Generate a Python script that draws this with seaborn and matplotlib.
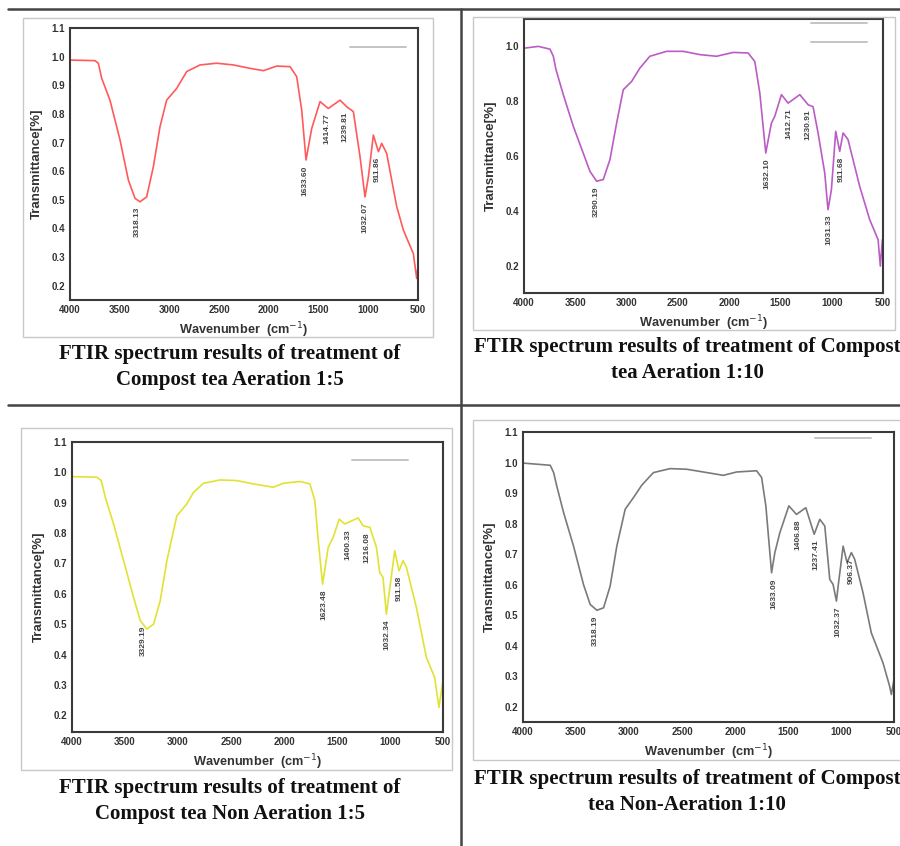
import numpy as np
import matplotlib.pyplot as plt
import seaborn as sns
from matplotlib.lines import Line2D
from matplotlib.patches import Rectangle

# --- spectra (wavenumber cm-1, transmittance) ---

# Compost tea Aeration 1:5
wn_aer5 = [4000, 3749, 3715, 3681, 3598, 3497, 3413, 3346, 3296, 3229, 3162, 3095,
           3028, 2927, 2826, 2692, 2525, 2357, 2189, 2055, 1921, 1787, 1720, 1670,
           1626, 1569, 1485, 1402, 1284, 1217, 1150, 1083, 1033, 999, 949, 898,
           865, 815, 714, 647, 547, 513, 500]
t_aer5 = [0.988, 0.986, 0.977, 0.924, 0.848, 0.709, 0.569, 0.505, 0.493, 0.510, 0.615, 0.755,
          0.848, 0.889, 0.948, 0.971, 0.977, 0.971, 0.959, 0.951, 0.967, 0.965, 0.930, 0.814,
          0.639, 0.749, 0.843, 0.819, 0.848, 0.825, 0.808, 0.650, 0.510, 0.580, 0.726, 0.668,
          0.697, 0.662, 0.476, 0.394, 0.312, 0.225, 0.266]
peaks_aer5 = ["3318.13", "1633.60", "1414.77", "1239.81", "1032.07", "911.86"]

# Compost tea Aeration 1:10
wn_aer10 = [3990, 3860, 3747, 3714, 3688, 3617, 3519, 3422, 3357, 3292, 3227, 3162,
            3097, 3032, 2951, 2870, 2773, 2610, 2448, 2286, 2123, 1961, 1815, 1750,
            1701, 1643, 1588, 1555, 1490, 1425, 1311, 1230, 1182, 1133, 1068, 1036,
            1003, 961, 922, 889, 841, 727, 630, 548, 526, 506]
t_aer10 = [0.994, 1.000, 0.990, 0.964, 0.915, 0.824, 0.708, 0.610, 0.544, 0.508, 0.514, 0.587,
           0.720, 0.842, 0.872, 0.921, 0.964, 0.982, 0.982, 0.970, 0.964, 0.978, 0.976, 0.945,
           0.830, 0.611, 0.720, 0.745, 0.824, 0.793, 0.824, 0.787, 0.780, 0.684, 0.538, 0.404,
           0.477, 0.690, 0.617, 0.684, 0.660, 0.489, 0.368, 0.295, 0.198, 0.295]
peaks_aer10 = ["3290.19", "1632.10", "1412.71", "1230.91", "1031.33", "911.68"]

# Compost tea Non Aeration 1:5
wn_non5 = [4000, 3765, 3724, 3686, 3608, 3513, 3419, 3356, 3294, 3231, 3168, 3105,
           3011, 2917, 2854, 2760, 2603, 2446, 2289, 2101, 2007, 1850, 1756, 1709,
           1677, 1636, 1583, 1536, 1479, 1426, 1300, 1253, 1190, 1128, 1097, 1066,
           1034, 1009, 955, 915, 877, 845, 751, 657, 579, 538, 500]
t_non5 = [0.986, 0.984, 0.973, 0.918, 0.830, 0.709, 0.588, 0.512, 0.484, 0.500, 0.577, 0.709,
          0.857, 0.896, 0.934, 0.964, 0.975, 0.973, 0.962, 0.951, 0.964, 0.970, 0.962, 0.907,
          0.775, 0.632, 0.753, 0.786, 0.846, 0.830, 0.850, 0.824, 0.819, 0.753, 0.670, 0.654,
          0.533, 0.600, 0.742, 0.676, 0.709, 0.687, 0.555, 0.391, 0.325, 0.226, 0.314]
peaks_non5 = ["3329.19", "1623.48", "1400.33", "1216.08", "1032.34", "911.58"]

# Compost tea Non-Aeration 1:10
wn_non10 = [3994, 3743, 3711, 3680, 3617, 3523, 3429, 3366, 3303, 3240, 3178, 3115,
            3036, 2958, 2879, 2770, 2613, 2456, 2299, 2110, 1985, 1796, 1749, 1709,
            1655, 1624, 1577, 1492, 1420, 1332, 1253, 1200, 1153, 1106, 1075, 1043,
            1027, 980, 943, 902, 871, 792, 714, 604, 541, 525, 500]
t_non10 = [0.998, 0.991, 0.967, 0.921, 0.836, 0.726, 0.600, 0.535, 0.516, 0.524, 0.595, 0.726,
           0.847, 0.885, 0.926, 0.967, 0.980, 0.978, 0.969, 0.958, 0.969, 0.973, 0.951, 0.858,
           0.639, 0.705, 0.770, 0.858, 0.830, 0.852, 0.765, 0.814, 0.792, 0.617, 0.601, 0.546,
           0.595, 0.726, 0.672, 0.705, 0.683, 0.573, 0.442, 0.344, 0.267, 0.240, 0.289]
peaks_non10 = ["3318.19", "1633.09", "1406.88", "1237.41", "1032.37", "906.37"]

x_ticks = [4000, 3500, 3000, 2500, 2000, 1500, 1000, 500]

W, H = 900, 846


def fbox(left, top, right, bottom):
    # pixel box -> figure fraction [x0, y0, w, h]
    return [left / W, 1 - bottom / H, (right - left) / W, (bottom - top) / H]


def draw_panel(fig, box, frame, wn, t, peaks, color, ylim, yticks, legend_at, n_leg, caption, cap_xy):
    fx = fbox(*frame)
    fig.add_artist(Rectangle((fx[0], fx[1]), fx[2], fx[3], transform=fig.transFigure,
                             fill=False, edgecolor="#c8c8c8", linewidth=1.0))
    ax = fig.add_axes(fbox(*box))
    sns.lineplot(x=wn, y=t, ax=ax, color=color, linewidth=1.2, estimator=None, sort=False)
    ax.set_xlim(4000, 500)
    ax.set_ylim(*ylim)
    ax.set_xticks(x_ticks)
    ax.set_yticks(yticks)
    ax.set_yticklabels([f"{v:.1f}" for v in yticks])
    ax.tick_params(labelsize=7, length=2, width=0.8, pad=1.5, colors="#333333")
    for lab in ax.get_xticklabels() + ax.get_yticklabels():
        lab.set_fontweight("bold")
    for s in ax.spines.values():
        s.set_color("#3a3a3a")
        s.set_linewidth(1.5)
    ax.set_xlabel("Wavenumber  (cm$^{-1}$)", fontsize=9.2, fontweight="bold", color="#333333", labelpad=4)
    ax.set_ylabel("Transmittance[%]", fontsize=9.5, fontweight="bold", color="#333333", labelpad=6)

    # peak labels just under the local minimum
    wn_a = np.array(wn)
    t_a = np.array(t)
    for p in peaks:
        v = float(p)
        near = np.abs(wn_a - v) < 30
        y = t_a[near].min() if near.any() else np.interp(v, wn_a[::-1], t_a[::-1])
        ax.text(v, y - 0.018, p, rotation=90, ha="center", va="top", fontsize=6,
                color="#444444", fontweight="bold")

    handles = [Line2D([], [], color="#c4c4c4", linewidth=1.4) for _ in range(n_leg)]
    ax.legend(handles, [""] * n_leg, loc="center", bbox_to_anchor=legend_at, frameon=False,
              handlelength=5, handletextpad=0, borderpad=0, labelspacing=0.75, fontsize=8)

    fig.text(cap_xy[0] / W, 1 - cap_xy[1] / H, caption, ha="center", va="center",
             multialignment="center", fontsize=15, fontweight="bold",
             family="Liberation Serif", linespacing=1.4, color="#111111")
    return ax


sns.set_theme(style="white")
plt.rcParams["font.family"] = ["Liberation Sans", "DejaVu Sans"]

fig = plt.figure(figsize=(9, 8.46), dpi=100)

ticks_01 = [round(0.2 + 0.1 * i, 1) for i in range(10)]
ticks_02 = [0.2, 0.4, 0.6, 0.8, 1.0]

draw_panel(fig, (70, 28, 418, 300), (23, 18, 433, 337), wn_aer5, t_aer5, peaks_aer5,
           "#ff5a5a", (0.15, 1.1), ticks_01, (0.885, 0.926), 1,
           "FTIR spectrum results of treatment of\nCompost tea Aeration 1:5", (230, 367))
draw_panel(fig, (524, 19, 883, 293), (473, 17, 895, 330), wn_aer10, t_aer10, peaks_aer10,
           "#bb5cc6", (0.1, 1.1), ticks_02, (0.878, 0.947), 2,
           "FTIR spectrum results of treatment of Compost\ntea Aeration 1:10", (687, 360))
draw_panel(fig, (72, 442, 443, 732), (21, 428, 452, 770), wn_non5, t_non5, peaks_non5,
           "#e2e234", (0.145, 1.1), ticks_01, (0.83, 0.934), 1,
           "FTIR spectrum results of treatment of\nCompost tea Non Aeration 1:5", (230, 801))
draw_panel(fig, (523, 432, 894, 722), (473, 420, 905, 760), wn_non10, t_non10, peaks_non10,
           "#7a7a7a", (0.15, 1.1), ticks_01, (0.862, 0.976), 1,
           "FTIR spectrum results of treatment of Compost\ntea Non-Aeration 1:10", (687, 792))

# table rules
line_kw = dict(color="#444444", linewidth=1.8, transform=fig.transFigure)
fig.add_artist(Line2D([8 / W, 1], [1 - 9 / H, 1 - 9 / H], **line_kw))
fig.add_artist(Line2D([8 / W, 1], [1 - 405 / H, 1 - 405 / H], **line_kw))
fig.add_artist(Line2D([461 / W, 461 / W], [0, 1 - 9 / H], **line_kw))

fig.savefig("out.png", dpi=100, facecolor="white")
